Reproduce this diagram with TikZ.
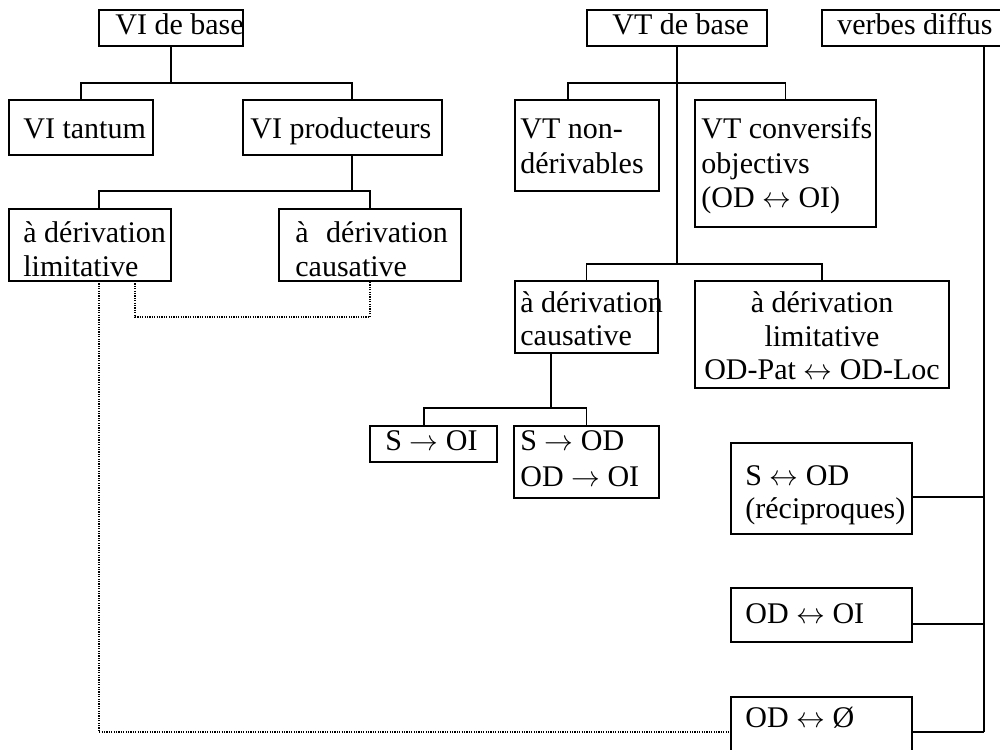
\documentclass[tikz,border=0pt]{standalone}
\usepackage{fontspec}
\setmainfont{Liberation Serif}
\usetikzlibrary{fit}
\newcommand{\ra}{\ensuremath{\rightarrow}}
\newcommand{\lra}{\ensuremath{\leftrightarrow}}
\begin{document}
\begin{tikzpicture}[x=0.5pt,y=-0.5pt,
  box/.style={draw,line width=0.8pt,inner sep=0pt},
  conn/.style={line width=0.8pt},
  dotline/.style={line width=0.6pt,dash pattern=on 0.6pt off 0.6pt},
  txt/.style={inner sep=0pt,anchor=base west,font=\fontsize{15pt}{17pt}\selectfont},
  ctxt/.style={txt,anchor=base}]
\useasboundingbox (0,0) rectangle (1000,749);
\begin{scope}
\clip (0,0) rectangle (1000,749);
% ---------- boxes ----------
\node[box,fit={(99,10) (243,46)}] (vib) {};
\node[box,fit={(9,100) (153,155)}] (vit) {};
\node[box,fit={(243,100) (442,155)}] (vip) {};
\node[box,fit={(9,209) (171,281)}] (vil) {};
\node[box,fit={(279,209) (461,281)}] (vic) {};
\node[box,fit={(587,10) (767,46)}] (vtb) {};
\node[box,fit={(822,10) (1010,46)}] (vd) {};
\node[box,fit={(515,100) (659,191)}] (vtn) {};
\node[box,fit={(695,100) (876,227)}] (vtc) {};
\node[box,fit={(515,281) (658,353)}] (vtca) {};
\node[box,fit={(695,281) (949,388)}] (vtl) {};
\node[box,fit={(370,426) (497,462)}] (soi) {};
\node[box,fit={(514,426) (659,498)}] (sod) {};
\node[box,fit={(731,443) (912,534)}] (rec) {};
\node[box,fit={(731,588) (912,642)}] (odoi) {};
\node[box,fit={(731,697) (912,767)}] (ode) {};
% ---------- texts ----------
\node[txt] (t1) at (115,35) {VI de base};
\node[txt] (t2) at (23,138) {VI tantum};
\node[txt] (t3) at (250,138) {VI producteurs};
\node[txt] (t4a) at (23,242) {à dérivation};
\node[txt] (t4b) at (23,276) {limitative};
\node[txt] (t5a) at (295,242) {à\hspace{8.75pt}dérivation};
\node[txt] (t5b) at (295,276) {causative};
\node[txt] (t6) at (612,35) {VT de base};
\node[txt] (t7) at (837,35) {verbes diffus};
\node[txt] (t8a) at (520,138) {VT non-};
\node[txt] (t8b) at (520,173) {dérivables};
\node[txt] (t9a) at (701,138) {VT conversifs};
\node[txt] (t9b) at (701,173) {objectivs};
\node[txt] (t9c) at (701,207) {(OD \lra{} OI)};
\node[txt] (t10a) at (520,312) {à dérivation};
\node[txt] (t10b) at (520,345) {causative};
\node[ctxt] (t11a) at (822,312) {à dérivation};
\node[ctxt] (t11b) at (822,346) {limitative};
\node[ctxt] (t11c) at (822,379) {OD-Pat \lra{} OD-Loc};
\node[txt] (t12) at (385,450) {S \ra{} OI};
\node[txt] (t13a) at (520,450) {S \ra{} OD};
\node[txt] (t13b) at (520,486) {OD \ra{} OI};
\node[txt] (t14a) at (745,485) {S \lra{} OD};
\node[txt] (t14b) at (745,518) {(réciproques)};
\node[txt] (t15) at (745,623) {OD \lra{} OI};
\node[txt] (t16) at (745,727) {OD \lra{} Ø};
% ---------- attach points ----------
\coordinate (vip-n) at (352,100);
\coordinate (vip-s) at (352,155);
\coordinate (vil-n) at (99,209);
\coordinate (vil-s1) at (99,281);
\coordinate (vil-s2) at (135,281);
\coordinate (vtn-n) at (568,100);
\coordinate (vtca-s) at (551,353);
\coordinate (soi-n) at (424,426);
\coordinate (vd-s) at (984,46);
\coordinate (spine) at (984,732);
\coordinate (rec-e) at (912,497);
\coordinate (odoi-e) at (912,624);
% ---------- tree 1 ----------
\draw[conn] (vib.south) -- ++(0,36) coordinate (j1);
\draw[conn] (vit.north) |- (j1) -| (vip-n);
\draw[conn] (vip-s) -- ++(0,36) coordinate (j2);
\draw[conn] (vil-n) |- (j2) -| (vic.north);
\draw[dotline] (vil-s2) -- ++(0,36) -| (vic.south);
\draw[dotline] (vil-s1) |- (ode.west);
% ---------- tree 2 ----------
\draw[conn] (vtb.south) -- ++(0,36) coordinate (j3);
\draw[conn] (vtn-n) |- (j3) -| (vtc.north);
\draw[conn] (j3) -- ++(0,181) coordinate (j4);
\draw[conn] (vtca.north) |- (j4) -| (vtl.north);
\draw[conn] (vtca-s) -- ++(0,55) coordinate (j5);
\draw[conn] (soi-n) |- (j5) -| (sod.north);
% ---------- tree 3 ----------
\draw[conn] (vd-s) -- (spine);
\draw[conn] (rec-e) -- (rec-e -| spine);
\draw[conn] (odoi-e) -- (odoi-e -| spine);
\draw[conn] (ode.east) -- (spine);
\end{scope}
\end{tikzpicture}
\end{document}
